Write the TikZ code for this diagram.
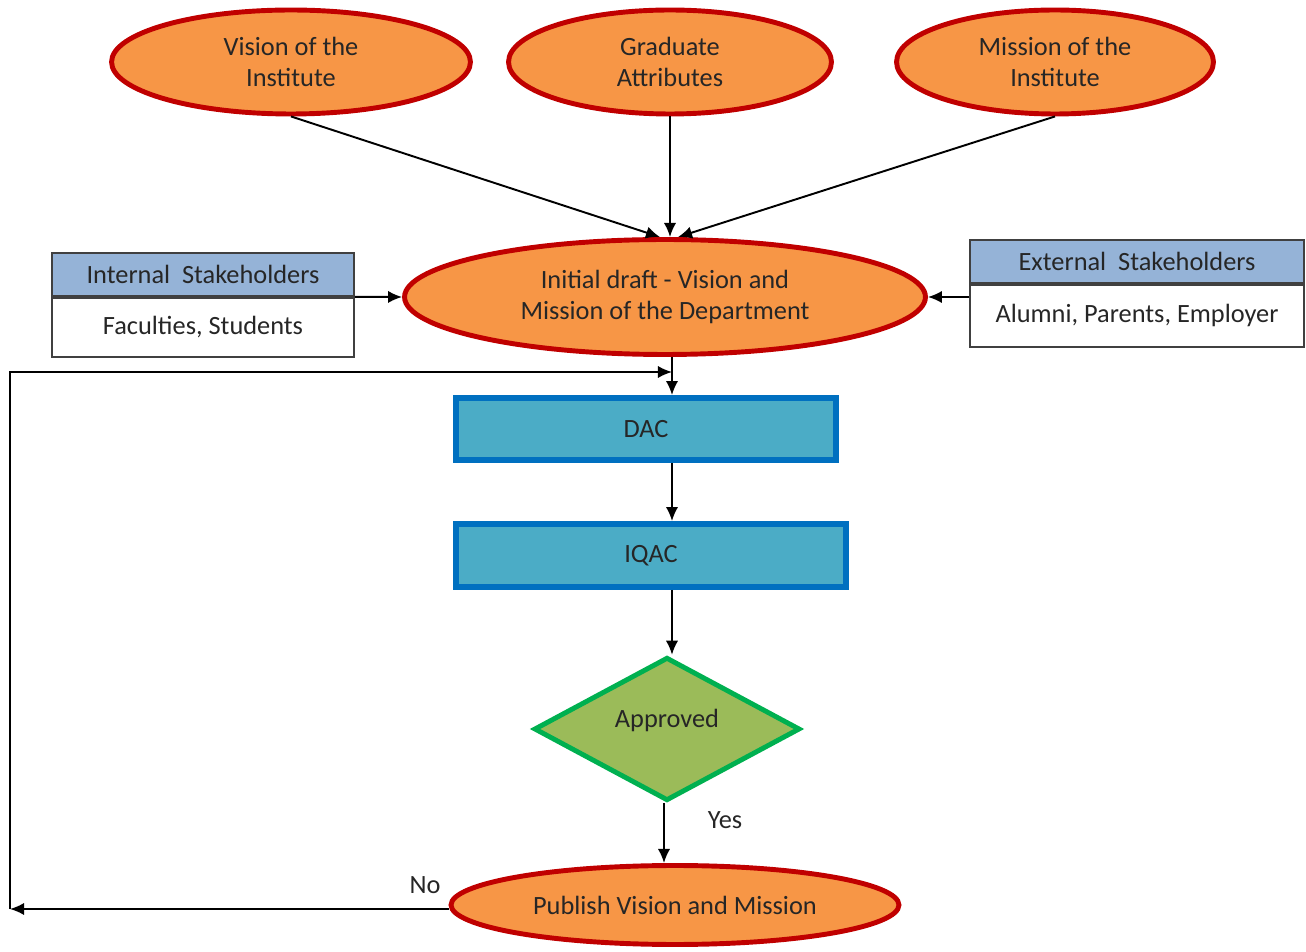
\documentclass[tikz,border=0pt]{standalone}
\usepackage{fontspec}
\setmainfont{Carlito}
\usetikzlibrary{shapes.geometric,arrows.meta}

\definecolor{ovalfill}{HTML}{F79646}
\definecolor{ovalline}{HTML}{C00000}
\definecolor{boxfill}{HTML}{4BACC6}
\definecolor{boxline}{HTML}{0070C0}
\definecolor{headfill}{HTML}{95B3D7}
\definecolor{dmdfill}{HTML}{9BBB59}
\definecolor{dmdline}{HTML}{00B050}
\definecolor{txt}{HTML}{262626}

\tikzset{
  oval/.style={ellipse, draw=ovalline, fill=ovalfill, line width=2.8pt, inner sep=0pt,
    align=center, text=txt},
  cbox/.style={draw=boxline, fill=boxfill, line width=3.3pt, inner sep=0pt, text=txt},
  shead/.style={draw=black!75, fill=headfill, line width=1pt, inner sep=0pt, text=txt},
  sbody/.style={draw=black!75, fill=white, line width=1pt, inner sep=0pt, text=txt},
  dmd/.style={diamond, draw=dmdline, fill=dmdfill, line width=2.8pt, inner sep=0pt, text=txt},
  conn/.style={-{Latex[length=8pt,width=7pt]}, line width=1.1pt}
}

\begin{document}
\begin{tikzpicture}[x=0.02cm, y=-0.02cm, font=\fontsize{15}{18}\selectfont]
  \useasboundingbox (0,0) rectangle (1306,952);

  % Top ovals
  \node[oval, minimum width=7.18cm, minimum height=2.08cm] (vision) at (291,62) {Vision of the\\Institute};
  \node[oval, minimum width=6.46cm, minimum height=2.08cm] (grad) at (670,62) {Graduate\\Attributes};
  \node[oval, minimum width=6.34cm, minimum height=2.08cm] (mission) at (1055,62) {Mission of the\\Institute};

  % Draft
  \node[oval, minimum width=10.42cm, minimum height=2.3cm] (draft) at (665,297) {Initial draft - Vision and\\Mission of the Department};

  % Stakeholders
  \node[shead, minimum width=6.04cm, minimum height=0.86cm] (inthead) at (203,274.5) {Internal\ \ Stakeholders};
  \node[sbody, minimum width=6.04cm, minimum height=1.18cm, anchor=north] (intbody) at (inthead.south) {Faculties, Students};
  \node[shead, minimum width=6.68cm, minimum height=0.86cm] (exthead) at (1137,261.5) {External\ \ Stakeholders};
  \node[sbody, minimum width=6.68cm, minimum height=1.24cm, anchor=north] (extbody) at (exthead.south) {Alumni, Parents, Employer};

  % Committees
  \node[cbox, minimum width=7.6cm, minimum height=1.24cm] (dac) at (646,429) {DAC};
  \node[cbox, minimum width=7.8cm, minimum height=1.26cm] (iqac) at (651,555.5) {IQAC};

  % Decision
  \node[dmd, minimum width=5.32cm, minimum height=2.72cm] (appr) at (667,729) {\raisebox{12pt}{Approved}};

  % Publish
  \node[oval, minimum width=8.96cm, minimum height=1.58cm] (publish) at (675,905) {Publish Vision and Mission};

  % Loop corners
  \coordinate (lbot) at (10,909);
  \coordinate (ltop) at (10,372);
  \coordinate (join) at (672,372);

  % Connectors
  \draw[conn] (vision.south) -- ([xshift=-0.1cm]draft.north);
  \draw[conn] (grad.south) -- (grad.south |- draft.north);
  \draw[conn] (mission.south) -- ([xshift=0.26cm]draft.north);
  \draw[conn] (inthead.south east) -- (draft.west);
  \draw[conn] (draft.east -| extbody.west) -- (draft.east);
  \draw[conn] (draft.south -| join) -- (join |- dac.north);
  \draw[conn] (join |- dac.south) -- (join |- iqac.north);
  \draw[conn] (join |- iqac.south) -- (join |- appr.north);
  \draw[conn] ([xshift=-0.06cm]appr.south) -- ([xshift=-0.06cm]appr.south |- publish.north);
  \draw[conn] (publish.west |- lbot) -- (lbot);
  \draw[conn] (lbot) -- (ltop) -- (join);

  % Labels
  \node[text=txt] (yes) at (725,820) {Yes};
  \node[text=txt] (no) at (425,885) {No};
\end{tikzpicture}
\end{document}
